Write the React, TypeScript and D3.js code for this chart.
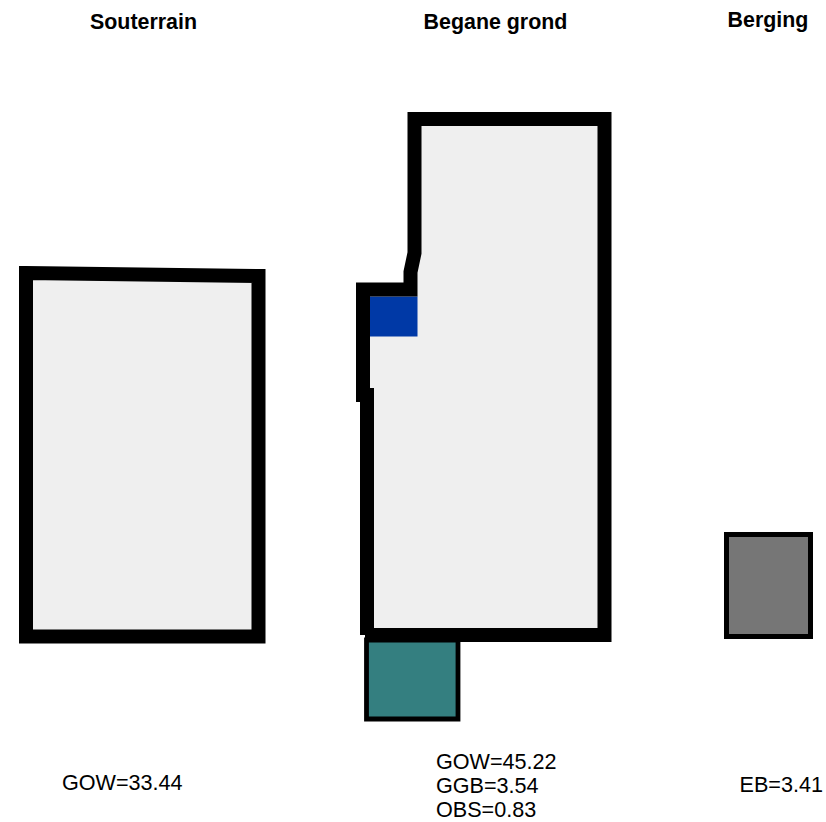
import React from "react";
import * as d3 from "d3";

type Pt = [number, number];

// Floor-plan geometry in metres (plan origin at top left of the sheet)
const souterrainWall: Pt[] = [[0.52, 5.46], [5.17, 5.52], [5.17, 12.73], [0.52, 12.73]];
const beganeFloor: Pt[] = [[8.29, 2.38], [12.09, 2.38], [12.09, 12.7], [7.34, 12.7], [7.34, 7.9], [7.26, 7.9], [7.26, 5.79], [8.21, 5.79], [8.21, 5.44], [8.29, 5.06]];
const beganeWallMain: Pt[] = [[7.3, 12.7], [12.09, 12.7], [12.09, 2.38], [8.29, 2.38], [8.29, 5.06], [8.21, 5.44], [8.21, 5.79], [7.26, 5.79], [7.26, 8.04]];
const beganeWallLower: Pt[] = [[7.34, 7.76], [7.34, 12.7]];
const ggbRoom: Pt[] = [[7.4, 5.93], [8.35, 5.93], [8.35, 6.73], [7.4, 6.73]];
const obsRoom: Pt[] = [[7.33, 12.8], [9.16, 12.8], [9.16, 14.38], [7.33, 14.38]];
const bergingRoom: Pt[] = [[14.53, 10.69], [16.21, 10.69], [16.21, 12.73], [14.53, 12.73]];

const panelTitles = ["Souterrain", "Begane grond", "Berging"];
const titleAnchors: Pt[] = [[2.87, 0.57], [9.91, 0.57], [15.36, 0.53]];
const areaLabels = ["GOW=33.44", "GOW=45.22", "GGB=3.54", "OBS=0.83", "EB=3.41"];
const labelAnchors: Pt[] = [[1.24, 15.8], [8.72, 15.38], [8.72, 15.86], [8.72, 16.34], [14.79, 15.84]];

const x = d3.scaleLinear().domain([0, 16.52]).range([0, 826]);
const y = d3.scaleLinear().domain([0, 16.44]).range([0, 822]);
const line = d3.line<Pt>().x((d) => x(d[0])).y((d) => y(d[1]));
const closed = (pts: Pt[]) => line(pts) + "Z";

const FONT = "'Liberation Sans', Arial, sans-serif";

export default function App() {
  return (
    <svg
      width={826}
      height={822}
      viewBox="0 0 826 822"
      style={{ position: "absolute", left: 0, top: 0, display: "block", background: "#fff" }}
    >
      <path d={closed(souterrainWall)} fill="#efefef" stroke="#000" strokeWidth={14} strokeLinejoin="miter" />
      <path d={closed(beganeFloor)} fill="#efefef" />
      <path d={closed(ggbRoom)} fill="#0039a6" />
      <path d={closed(obsRoom)} fill="#347f80" stroke="#000" strokeWidth={4.8} />
      <path d={line(beganeWallMain) ?? ""} fill="none" stroke="#000" strokeWidth={14} strokeLinejoin="miter" strokeMiterlimit={10} />
      <path d={line(beganeWallLower) ?? ""} fill="none" stroke="#000" strokeWidth={14} />
      <path d={closed(bergingRoom)} fill="#767676" stroke="#000" strokeWidth={5} />
      {panelTitles.map((t, i) => (
        <text key={t} x={x(titleAnchors[i][0])} y={y(titleAnchors[i][1])} textAnchor="middle" fontFamily={FONT} fontWeight="bold" fontSize={21.4} fill="#000">
          {t}
        </text>
      ))}
      {areaLabels.map((t, i) => (
        <text key={t} x={x(labelAnchors[i][0])} y={y(labelAnchors[i][1])} textAnchor="start" fontFamily={FONT} fontSize={21.6} fill="#000">
          {t}
        </text>
      ))}
    </svg>
  );
}
